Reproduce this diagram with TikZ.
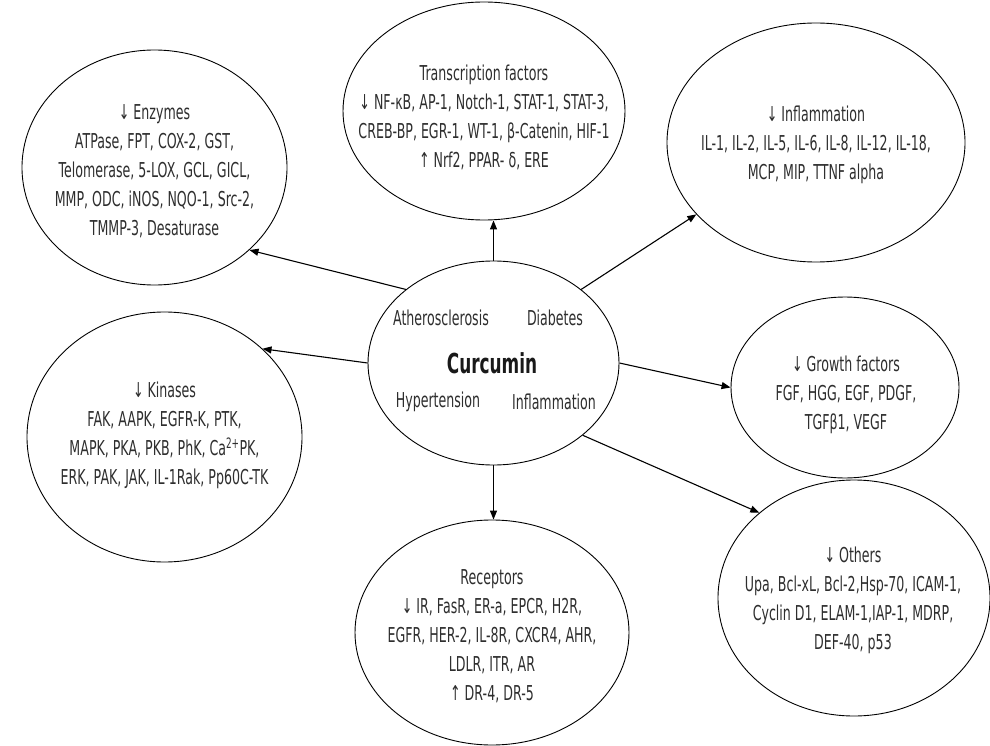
\documentclass[tikz,border=0pt]{standalone}
\usepackage{fontspec}
\setmainfont{DejaVu Sans}[FakeStretch=0.615]
\usetikzlibrary{shapes.geometric,arrows.meta}
\begin{document}
\begin{tikzpicture}[x=1pt,y=-1pt,
  oval/.style={draw,ellipse,line width=0.9pt,inner sep=0pt},
  body/.style={align=center,inner sep=0pt,font=\fontsize{20.5}{29}\selectfont,text=black!82},
  link/.style={line width=1.1pt,-{Triangle[length=9pt,width=7pt]}}]
\useasboundingbox (0,0) rectangle (990,746);

% outer ellipses
\node[oval,minimum width=265pt,minimum height=235pt] (enz) at (154.5,167.5) {};
\node[oval,minimum width=282pt,minimum height=218pt] (tf)  at (484,111) {};
\node[oval,minimum width=298pt,minimum height=239pt] (inf) at (816,142.5) {};
\node[oval,minimum width=275pt,minimum height=250pt] (kin) at (164.5,437) {};
\node[oval,minimum width=228pt,minimum height=181pt] (gro) at (845,387.5) {};
\node[oval,minimum width=274pt,minimum height=225pt] (rec) at (492,632.5) {};
\node[oval,minimum width=272pt,minimum height=236pt] (oth) at (854,598) {};
% central ellipse
\node[oval,minimum width=251pt,minimum height=204pt] (cur) at (493.5,363) {};

% texts
\node[body] (enzT) at (154.5,171) {↓ Enzymes\\ATPase, FPT, COX-2, GST,\\Telomerase, 5-LOX, GCL, GICL,\\MMP, ODC, iNOS, NQO-1, Src-2,\\TMMP-3, Desaturase};
\node[body] (tfT) at (484,117) {Transcription factors\\↓ NF-κB, AP-1, Notch-1, STAT-1, STAT-3,\\CREB-BP, EGR-1, WT-1, β-Catenin, HIF-1\\↑ Nrf2, PPAR- δ, ERE};
\node[body] (infT) at (816,145) {↓ Inflammation\\IL-1, IL-2, IL-5, IL-6, IL-8, IL-12, IL-18,\\MCP, MIP, TTNF alpha};
\node[body] (kinT) at (164.5,435.5) {↓ Kinases\\FAK, AAPK, EGFR-K, PTK,\\MAPK, PKA, PKB, PhK, Ca\textsuperscript{2+}PK,\\ERK, PAK, JAK, IL-1Rak, Pp60C-TK};
\node[body] (groT) at (846,395) {↓ Growth factors\\FGF, HGG, EGF, PDGF,\\TGFβ1, VEGF};
\node[body] (recT) at (492,636) {Receptors\\↓ IR, FasR, ER-a, EPCR, H2R,\\EGFR, HER-2, IL-8R, CXCR4, AHR,\\LDLR, ITR, AR\\↑ DR-4, DR-5};
\node[body] (othT) at (853,600) {↓ Others\\Upa, Bcl-xL, Bcl-2,Hsp-70, ICAM-1,\\Cyclin D1, ELAM-1,IAP-1, MDRP,\\DEF-40, p53};

\node[body] (ath) at (441,318) {Atherosclerosis};
\node[body] (dia) at (555,318) {Diabetes};
\node[body,font=\fontsize{27.5}{30}\selectfont\bfseries,text=black!90] (curT) at (492,363) {Curcumin};
\node[body] (hyp) at (438,402) {Hypertension};
\node[body] (inl) at (554,402) {Inflammation};

% connectors
\draw[link] (cur.140.5) -- (enz.-41);
\draw[link] (cur.north) -- (cur.north |- tf.south);
\draw[link] (cur.40.3) -- (inf.211.2);
\draw[link] (cur.180) -- (kin.42);
\draw[link] (cur.0) -- (gro.180);
\draw[link] (cur.south) -- (cur.south |- rec.north);
\draw[link] (cur.-39.6) -- (oth.138.8);
\end{tikzpicture}
\end{document}
